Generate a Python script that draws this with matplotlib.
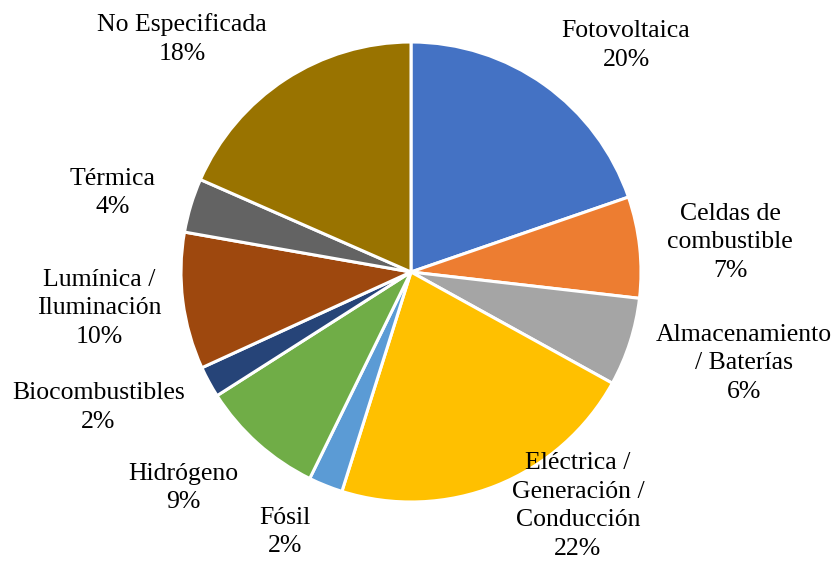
import matplotlib
matplotlib.use("Agg")
import matplotlib.pyplot as plt

categories = ["Fotovoltaica", "Celdas de\ncombustible", "Almacenamiento\n/ Baterías",
              "Eléctrica /\nGeneración /\nConducción", "Fósil", "Hidrógeno",
              "Biocombustibles", "Lumínica /\nIluminación", "Térmica", "No Especificada"]
values = [19.7, 7.1, 6.2, 21.8, 2.4, 8.7, 2.2, 9.6, 3.8, 18.4]
colors = ["#4472C4", "#ED7D31", "#A5A5A5", "#FFC000", "#5B9BD5", "#70AD47",
          "#264478", "#9E480E", "#636363", "#997300"]
label_pos = [(0.935, 0.985), (1.387, 0.13), (1.448, -0.396), (0.726, -1.017), (-0.548, -1.13),
             (-0.99, -0.94), (-1.36, -0.59), (-1.357, -0.157), (-1.296, 0.343), (-0.996, 1.013)]

plt.rcParams['font.family'] = ['Liberation Serif', 'DejaVu Serif']
fig = plt.figure(figsize=(8.36, 5.61), dpi=100)
ax = fig.add_axes([0, 0, 1, 1])
R = 230.0
ax.pie(values, colors=colors, startangle=90, counterclock=False,
       wedgeprops=dict(edgecolor="white", linewidth=2.2))
total = sum(values)
for name, v, (x, y) in zip(categories, values, label_pos):
    ax.text(x, y, f"{name}\n{v / total * 100:.0f}%", ha="center", va="center",
            fontsize=18.5, linespacing=1.38, color="#000000")
ax.set_aspect('auto')
ax.set_xlim(-411 / R, 425 / R)
ax.set_ylim(-(561 - 272) / R, 272 / R)
ax.axis('off')
fig.savefig("out.png", dpi=100)
